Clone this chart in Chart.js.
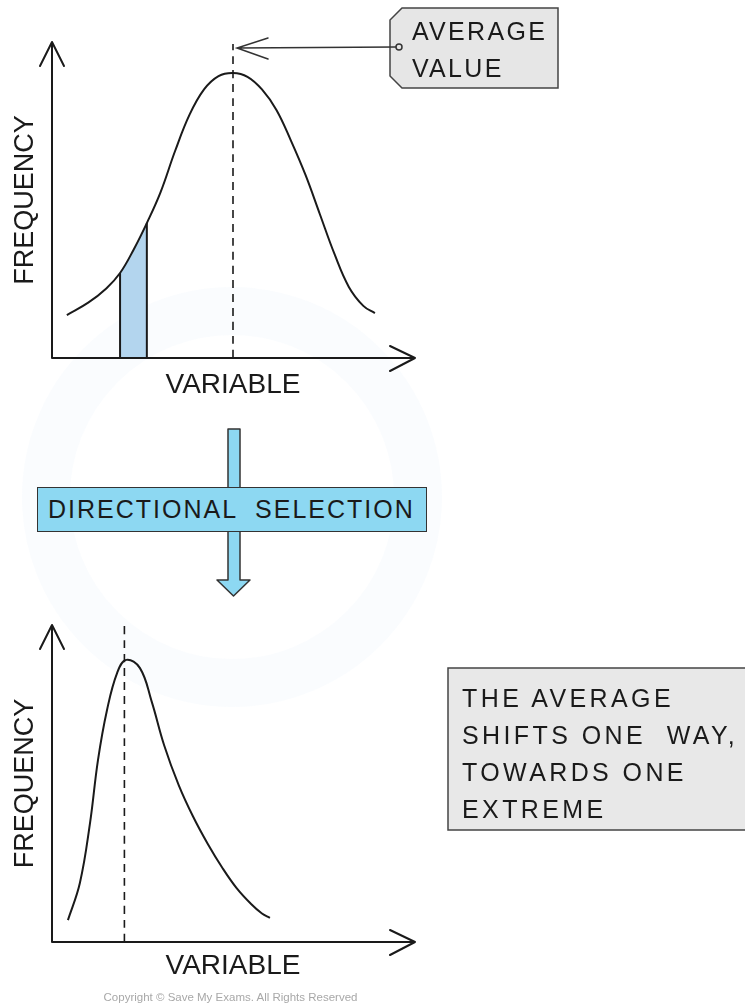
<!DOCTYPE html>
<html>
<head>
<meta charset="utf-8">
<title>Directional selection</title>
<script src="https://cdn.jsdelivr.net/npm/chart.js@4.4.1/dist/chart.umd.min.js"></script>
<style>
  html, body { margin: 0; padding: 0; background: #fff; }
  body {
    width: 745px; height: 1008px; position: relative; overflow: hidden;
    font-family: 'Liberation Sans', Arial, sans-serif; color: #1a1a1a;
  }
  .layer { position: absolute; left: 0; top: 0; }
  #topChart { position: absolute; left: 0; top: 0; z-index: 1; }
  #bottomChart { position: absolute; left: 0; top: 600px; z-index: 1; }
  .label { position: absolute; z-index: 2; white-space: pre; font-size: 25px; line-height: 37px; }
  #avgLabel { left: 412px; top: 13px; letter-spacing: 2.3px; }
  #shiftLabel { left: 462px; top: 680px; letter-spacing: 3.4px; }
  #selection {
    position: absolute; z-index: 2; left: 37px; top: 487px; width: 390px; height: 45px;
    background: #8dd8f2; border: 1.5px solid #333; box-sizing: border-box;
    font-size: 25px; line-height: 43px; text-indent: 10px; letter-spacing: 2px; white-space: pre;
  }
  #copyright {
    position: absolute; z-index: 2; left: 0; width: 461px; top: 991px; text-align: center;
    font-size: 11.5px; color: #a8a8a8;
  }
  .ring {
    position: absolute; left: 22px; top: 287px; width: 420px; height: 420px; border-radius: 50%;
    box-sizing: border-box; border: 48px solid rgba(214, 232, 244, 0.12);
  }
</style>
</head>
<body>
<div class="ring"></div>
<svg class="layer" width="745" height="1008">
  <!-- tag box for the average -->
  <polygon points="402,8 558,8 558,88 402,88 390,76 390,20" fill="#e6e6e6" stroke="#444" stroke-width="1.5"/>
  <!-- big down arrow behind the selection box -->
  <polygon points="228,429 240,429 240,580 250,580 233.5,596 217,580 228,580" fill="#8dd8f2" stroke="#333" stroke-width="1.5" stroke-linejoin="round"/>
  <!-- note box, right edge runs off the page -->
  <rect x="448" y="668" width="310" height="162" fill="#e8e8e8" stroke="#444" stroke-width="1.5"/>
</svg>
<canvas id="topChart" width="745" height="410"></canvas>
<canvas id="bottomChart" width="745" height="408"></canvas>
<div class="label" id="avgLabel">AVERAGE
VALUE</div>
<div id="selection">DIRECTIONAL  SELECTION</div>
<div class="label" id="shiftLabel">THE AVERAGE
SHIFTS ONE  WAY,
TOWARDS ONE
EXTREME</div>
<div id="copyright">Copyright © Save My Exams. All Rights Reserved</div>

<script>
// before selection: normal curve
const topX = [0.41, 1.0, 1.5, 1.88, 2.25, 2.62, 3.0, 3.4, 3.8, 4.2, 4.6, 5.0, 5.4, 5.8, 6.2, 6.6, 7.0, 7.4, 7.8, 8.2, 8.6, 8.92];
const topY = [1.36, 1.75, 2.2, 2.69, 3.42, 4.27, 5.25, 6.55, 7.7, 8.5, 8.92, 9.02, 8.9, 8.5, 7.85, 6.88, 5.8, 4.55, 3.3, 2.25, 1.65, 1.42];
// shaded band under the left side of the curve
const bandX = [1.88, 2.25, 2.62];
const bandY = [2.69, 3.42, 4.27];
const topAverage = 5.0;

// after selection: skewed curve
const bottomX = [0.44, 0.77, 1.05, 1.27, 1.52, 1.8, 2.05, 2.43, 2.75, 3.1, 3.5, 3.9, 4.3, 4.7, 5.1, 5.5, 5.8, 6.02];
const bottomY = [0.69, 1.86, 3.75, 5.74, 7.32, 8.49, 8.9, 8.64, 7.6, 6.2, 4.95, 3.95, 3.1, 2.35, 1.7, 1.2, 0.9, 0.76];
const bottomAverage = 2.0;

const axisTitles = ['VARIABLE', 'FREQUENCY'];

const ink = '#1a1a1a';
const font = 'Liberation Sans';

const pts = (xs, ys) => xs.map((x, i) => ({ x: x, y: ys[i] }));

// draws the two axes with open arrow heads
const arrowAxes = {
    id: 'arrowAxes',
    afterDatasetsDraw(chart) {
        const { ctx, chartArea: a } = chart;
        const tipX = a.right + 1;
        ctx.save();
        ctx.strokeStyle = ink;
        ctx.lineWidth = 2;
        ctx.lineCap = 'round';
        ctx.lineJoin = 'round';
        ctx.beginPath();
        ctx.moveTo(a.left, a.top);
        ctx.lineTo(a.left, a.bottom);
        ctx.lineTo(tipX, a.bottom);
        ctx.moveTo(a.left - 12, a.top + 24);
        ctx.lineTo(a.left, a.top);
        ctx.lineTo(a.left + 12, a.top + 24);
        ctx.moveTo(tipX - 25, a.bottom - 12);
        ctx.lineTo(tipX, a.bottom);
        ctx.lineTo(tipX - 25, a.bottom + 13);
        ctx.stroke();
        ctx.restore();
    }
};

// pointer from the "average value" tag to the dashed line
const pointer = {
    id: 'pointer',
    afterDraw(chart, args, opts) {
        if (opts.value === undefined) return;
        const ctx = chart.ctx;
        const tipX = chart.scales.x.getPixelForValue(opts.value) + 4;
        const tipY = 48;
        ctx.save();
        ctx.strokeStyle = '#333';
        ctx.lineWidth = 1.5;
        ctx.lineCap = 'round';
        ctx.beginPath();
        ctx.moveTo(opts.fromX - 3, opts.fromY);
        ctx.lineTo(tipX, tipY);
        ctx.moveTo(tipX + 31, tipY - 10);
        ctx.lineTo(tipX, tipY);
        ctx.lineTo(tipX + 31, tipY + 11);
        ctx.stroke();
        ctx.beginPath();
        ctx.arc(opts.fromX, opts.fromY, 3, 0, Math.PI * 2);
        ctx.fillStyle = '#e6e6e6';
        ctx.fill();
        ctx.stroke();
        ctx.restore();
    }
};

function curveSet(data, extra) {
    return Object.assign({
        data: data,
        borderColor: ink,
        borderWidth: 2,
        pointRadius: 0,
        fill: false,
        tension: 0.4,
        clip: false
    }, extra || {});
}

function makeChart(id, datasets, yTop, xBand, titlePad, pointerOpts) {
    return new Chart(document.getElementById(id), {
        type: 'line',
        data: { datasets: datasets },
        options: {
            responsive: false,
            animation: false,
            events: [],
            layout: { padding: { left: 0, right: 331, top: yTop, bottom: 0 } },
            plugins: {
                legend: { display: false },
                tooltip: { enabled: false },
                pointer: pointerOpts || {}
            },
            scales: {
                x: {
                    type: 'linear', min: 0, max: 10,
                    ticks: { display: false },
                    grid: { display: false, drawTicks: false },
                    border: { display: false },
                    title: {
                        display: true, text: axisTitles[0], color: ink,
                        font: { family: font, size: 28 },
                        padding: { top: 0, bottom: titlePad }
                    },
                    afterFit: s => { s.height = xBand; }
                },
                y: {
                    type: 'linear', min: 0, max: 10,
                    ticks: { display: false },
                    grid: { display: false, drawTicks: false },
                    border: { display: false },
                    title: {
                        display: true, text: axisTitles[1], color: ink,
                        font: { family: font, size: 27 },
                        padding: { top: 9, bottom: 0 }
                    },
                    afterFit: s => { s.width = 52; }
                }
            }
        },
        plugins: [arrowAxes, pointer]
    });
}

makeChart('topChart', [
    curveSet(pts(topX, topY), { order: 0 }),
    curveSet(pts(bandX, bandY), { borderWidth: 0, fill: 'origin', backgroundColor: '#b3d5ee', order: 5 }),
    curveSet([{ x: bandX[0], y: 0 }, { x: bandX[0], y: bandY[0] }], { order: 1 }),
    curveSet([{ x: bandX[bandX.length - 1], y: 0 }, { x: bandX[bandX.length - 1], y: bandY[bandY.length - 1] }], { order: 1 }),
    curveSet([{ x: topAverage, y: 0 }, { x: topAverage, y: 9.94 }], { borderWidth: 1.6, borderDash: [8, 6], order: 2 })
], 42, 52, 8, { value: topAverage, fromX: 399, fromY: 47 });

makeChart('bottomChart', [
    curveSet(pts(bottomX, bottomY), { order: 0 }),
    curveSet([{ x: bottomAverage, y: 0 }, { x: bottomAverage, y: 10 }], { borderWidth: 1.6, borderDash: [8, 6], order: 2 })
], 25, 66, 25);
</script>
</body>
</html>
